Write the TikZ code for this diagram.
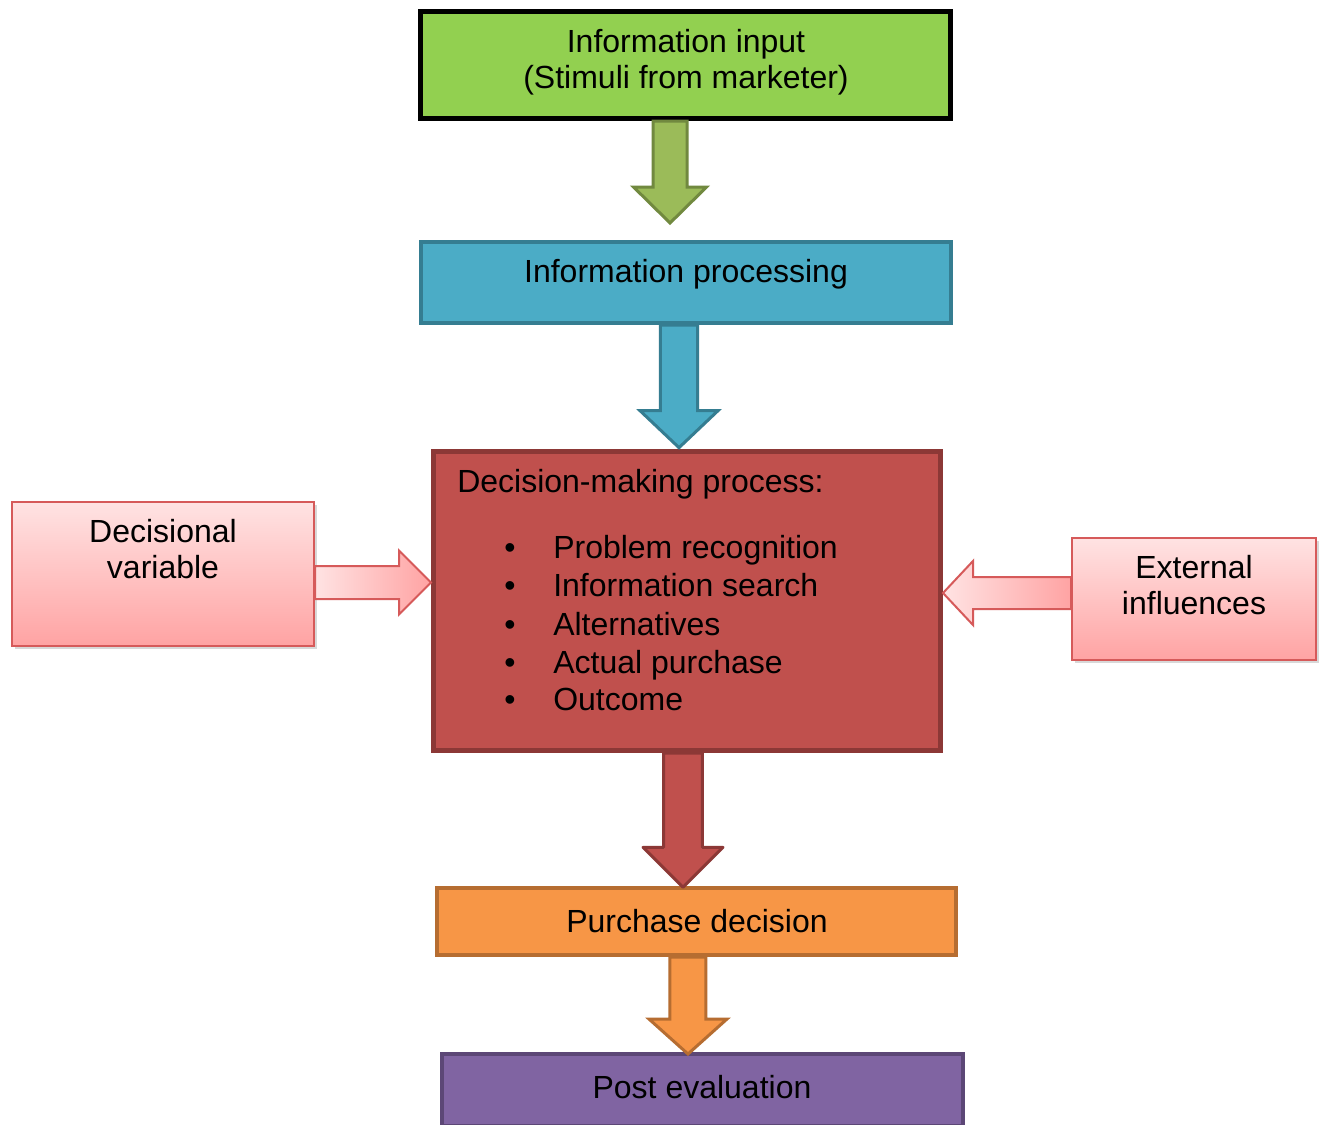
\documentclass[tikz,border=0pt]{standalone}
\usepackage{fontspec}
\setmainfont{Liberation Sans}
\usetikzlibrary{calc,shadows}
\definecolor{cgreen}{HTML}{92D050}
\definecolor{cgarrow}{HTML}{9BBB59}
\definecolor{cgarrowd}{HTML}{71893F}
\definecolor{cblue}{HTML}{4BACC6}
\definecolor{cblued}{HTML}{357D91}
\definecolor{cred}{HTML}{C0504D}
\definecolor{credd}{HTML}{8C3836}
\definecolor{corange}{HTML}{F79646}
\definecolor{coranged}{HTML}{B66D31}
\definecolor{cpurple}{HTML}{8064A2}
\definecolor{cpurpled}{HTML}{5C4776}
\definecolor{cpinkt}{HTML}{FFE3E3}
\definecolor{cpinkb}{HTML}{FFA3A3}
\definecolor{cpinkd}{HTML}{D65A5A}
% down block arrow: from, to, x offset, shaft half width, head half width, head length, style, gap above target
\newcommand{\vblock}[8]{\path[#7] let \p1=(#1.south), \p2=(#2.north) in
  (\x1+#3-#4,\y1) -- (\x1+#3+#4,\y1) -- (\x1+#3+#4,\y2+#8+#6) -- (\x1+#3+#5,\y2+#8+#6)
  -- (\x1+#3,\y2+#8) -- (\x1+#3-#5,\y2+#8+#6) -- (\x1+#3-#4,\y2+#8+#6) -- cycle;}
% right block arrow
\newcommand{\hblockR}[7]{\path[#7] let \p1=(#1.east), \p2=(#2.west) in
  (\x1,\y1+#3+#4) -- (\x2-#6,\y1+#3+#4) -- (\x2-#6,\y1+#3+#5) -- (\x2,\y1+#3)
  -- (\x2-#6,\y1+#3-#5) -- (\x2-#6,\y1+#3-#4) -- (\x1,\y1+#3-#4) -- cycle;}
% left block arrow
\newcommand{\hblockL}[7]{\path[#7] let \p1=(#1.west), \p2=(#2.east) in
  (\x1,\y1+#3+#4) -- (\x2+#6,\y1+#3+#4) -- (\x2+#6,\y1+#3+#5) -- (\x2,\y1+#3)
  -- (\x2+#6,\y1+#3-#5) -- (\x2+#6,\y1+#3-#4) -- (\x1,\y1+#3-#4) -- cycle;}
\begin{document}
\begin{tikzpicture}[x=0.75pt,y=-0.75pt,
  box/.style={rectangle, inner sep=0pt},
  txt/.style={inner sep=0pt, align=center, font=\fontsize{24}{27}\selectfont},
  litem/.style={inner sep=0pt, anchor=base west, font=\fontsize{24}{28}\selectfont},
  pinkbox/.style={box, draw=cpinkd, line width=1.5pt, top color=cpinkt, bottom color=cpinkb,
    drop shadow={opacity=0.3, shadow xshift=2pt, shadow yshift=-2pt}},
  pinkarrow/.style={draw=cpinkd, line width=1.5pt, left color=cpinkt, right color=cpinkb, line join=miter}
]
\useasboundingbox (0,0) rectangle (1326,1124);
\fill[white] (0,0) rectangle (1326,1124);

% boxes
\node[box, draw=black, fill=cgreen, line width=3.75pt, minimum width=397.5pt, minimum height=80.25pt] (gin) at (685.5,65) {};
\node[box, draw=cblued, fill=cblue, line width=3pt, minimum width=397.5pt, minimum height=60.75pt] (proc) at (686,282.5) {};
\node[box, draw=credd, fill=cred, line width=3.75pt, minimum width=380.25pt, minimum height=224.25pt] (dmp) at (687,601) {};
\node[box, draw=coranged, fill=corange, line width=3pt, minimum width=389.25pt, minimum height=50.25pt] (pur) at (696.5,921.5) {};
\node[box, draw=cpurpled, fill=cpurple, line width=3pt, minimum width=390.75pt, minimum height=54pt] (post) at (702.5,1090) {};
\node[pinkbox, minimum width=226.5pt, minimum height=108pt] (dv) at (163,574) {};
\node[pinkbox, minimum width=183pt, minimum height=91.5pt] (ext) at (1194,599) {};

% texts
\node[txt] (gintxt) at (686,62) {Information input\\(Stimuli from marketer)};
\node[txt] (proctxt) at (686,274) {Information processing};
\node[txt] (purtxt) at (697,921) {Purchase decision};
\node[txt] (posttxt) at (702,1087) {Post evaluation};
\node[txt] (dvtxt) at (163,549) {Decisional\\variable};
\node[txt] (exttxt) at (1194,585) {External\\influences};
\node[litem] (dmptitle) at (457,492) {Decision-making process:};
\foreach \t/\yy [count=\i] in {Problem recognition/558, Information search/596, Alternatives/635, Actual purchase/673, Outcome/710}{
  \node[litem] (li\i) at (504,\yy) {\makebox[36.75pt][l]{\textbullet}\t};
}

% block arrows
\vblock{gin}{proc}{-11.6pt}{12.75pt}{27.4pt}{27pt}{draw=cgarrowd, fill=cgarrow, line width=2.25pt, line join=miter}{12.75pt}
\vblock{proc}{dmp}{-5.25pt}{13.9pt}{29.25pt}{27.75pt}{draw=cblued, fill=cblue, line width=2.25pt, line join=miter}{1pt}
\vblock{dmp}{pur}{-3pt}{14.6pt}{30pt}{30pt}{draw=credd, fill=cred, line width=2.25pt, line join=round}{-1pt}
\vblock{pur}{post}{-6.4pt}{13.5pt}{29.25pt}{26.25pt}{draw=coranged, fill=corange, line width=2.25pt, line join=miter}{-1.5pt}
\hblockR{dv}{dmp}{-6.4pt}{12.4pt}{24pt}{24pt}{pinkarrow}
\hblockL{ext}{dmp}{4.5pt}{12pt}{24pt}{22.5pt}{pinkarrow}
\end{tikzpicture}
\end{document}
